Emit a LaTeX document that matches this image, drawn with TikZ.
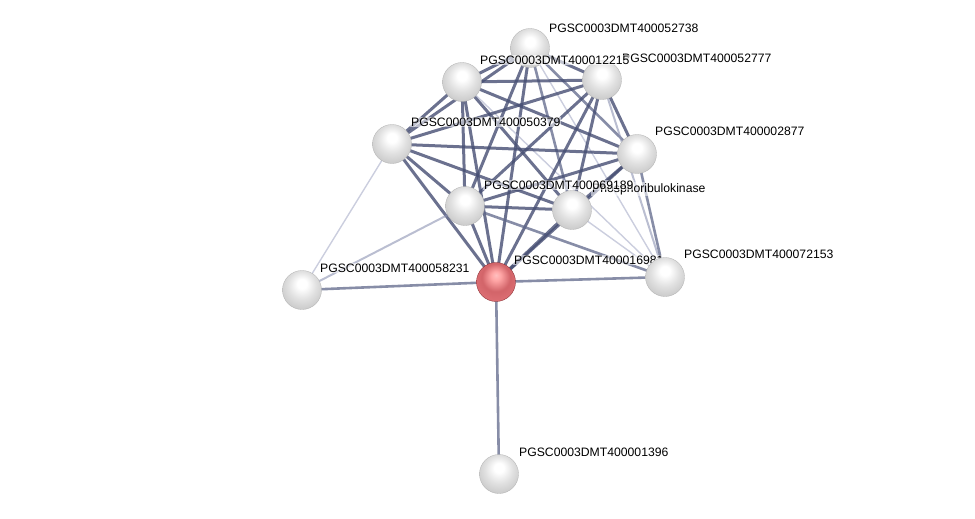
\documentclass[tikz,border=0pt]{standalone}
\usepackage{fontspec}
\setmainfont{Liberation Sans}
\usetikzlibrary{calc}
\pgfdeclareradialshading{graysphere}{\pgfpoint{0bp}{9bp}}{color(0bp)=(white); color(6bp)=(white); color(18bp)=(black!12); color(28bp)=(black!20); color(34bp)=(black!42); color(38bp)=(black!58); color(50bp)=(black!62)}
\pgfdeclareradialshading{redsphere}{\pgfpoint{0bp}{9bp}}{color(0bp)=(red!25!white); color(6bp)=(red!35!white); color(18bp)=({rgb,255:red,210;green,100;blue,105}); color(28bp)=({rgb,255:red,220;green,110;blue,115}); color(34bp)=({rgb,255:red,170;green,60;blue,65}); color(38bp)=({rgb,255:red,130;green,40;blue,45}); color(50bp)=({rgb,255:red,120;green,30;blue,35})}
\begin{document}
\begin{tikzpicture}[x=1pt,y=-1pt,
  ball/.style={circle,minimum size=39pt,inner sep=0pt,shading=graysphere,draw=gray!60,line width=0.3pt},
  redball/.style={ball,shading=redsphere,draw={rgb,255:red,130;green,40;blue,45}},
  lbl/.style={anchor=west,font=\fontsize{12.2}{13}\selectfont,inner sep=1pt,fill=white,fill opacity=0.55,text opacity=1},
  dk/.style={draw={rgb,255:red,70;green,78;blue,115},line width=3pt,opacity=0.8},
  md/.style={draw={rgb,255:red,95;green,103;blue,138},line width=2.6pt,opacity=0.75},
  lt/.style={draw={rgb,255:red,140;green,146;blue,178},line width=2pt,opacity=0.6},
  vl/.style={draw={rgb,255:red,160;green,165;blue,195},line width=1.4pt,opacity=0.55}]
\useasboundingbox (0,0) rectangle (975,519);
% coordinates
\coordinate (A) at (530,48);
\coordinate (B) at (462,82);
\coordinate (C) at (602,80);
\coordinate (D) at (392,144);
\coordinate (E) at (637,154);
\coordinate (F) at (465,206);
\coordinate (G) at (572,210);
\coordinate (H) at (496,282);
\coordinate (I) at (665,277);
\coordinate (J) at (302,290);
\coordinate (K) at (499,474);
% edges
\draw[dk] (A)--(B); \draw[dk] (A)--(C); \draw[dk] (A)--(D); \draw[dk] (A)--(F);
\draw[dk] (A)--(H); \draw[md] (A)--(E); \draw[md] (A)--(G); \draw[vl] (A)--(I);
\draw[dk] (B)--(C); \draw[dk] (B)--(D); \draw[dk] (B)--(E); \draw[dk] (B)--(F);
\draw[dk] (B)--(G); \draw[dk] (B)--(H); \draw[vl] (B)--(I);
\draw[dk] (C)--(D); \draw[dk] (C)--(E); \draw[dk] (C)--(F); \draw[dk] (C)--(G);
\draw[dk] (C)--(H); \draw[lt] (C)--(I);
\draw[dk] (D)--(E); \draw[dk] (D)--(F); \draw[dk] (D)--(G); \draw[dk] (D)--(H);
\draw[dk] (E)--(F); \draw[dk] (E)--(G); \draw[dk] (E)--(H); \draw[md] (E)--(I);
\draw[dk] (F)--(G); \draw[dk] (F)--(H); \draw[md] (F)--(I);
\draw[dk,line width=3.4pt] (G)--(H); \draw[vl] (G)--(I);
\draw[md] (H)--(I); \draw[md] (H)--(J); \draw[md] (H)--(K);
\draw[vl] (J)--(D); \draw[lt] (J)--(F);
% labels
\node[lbl] (lA) at ($(A)+(18,-20)$) {PGSC0003DMT400052738};
\node[lbl] (lC) at ($(C)+(19,-22)$) {PGSC0003DMT400052777};
\node[lbl] (lD) at ($(D)+(18,-22)$) {PGSC0003DMT400050379};
\node[lbl] (lE) at ($(E)+(17,-23)$) {PGSC0003DMT400002877};
\node[lbl] (lG) at ($(G)+(19,-21)$) {Phosphoribulokinase};
\node[lbl] (lF) at ($(F)+(18,-21)$) {PGSC0003DMT400069189};
\node[lbl] (lH) at ($(H)+(17,-22)$) {PGSC0003DMT400016981};
\node[lbl] (lI) at ($(I)+(18,-23)$) {PGSC0003DMT400072153};
\node[lbl] (lJ) at ($(J)+(17,-22)$) {PGSC0003DMT400058231};
\node[lbl] (lK) at ($(K)+(19,-22)$) {PGSC0003DMT400001396};
% nodes
\foreach \n in {A,B,C,D,E,F,G,I,J,K} \node[ball] (n\n) at (\n) {};
\node[redball] (nH) at (H) {};
\node[lbl,fill opacity=0.6] (lB) at ($(B)+(17,-22)$) {PGSC0003DMT400012215};
\end{tikzpicture}
\end{document}
